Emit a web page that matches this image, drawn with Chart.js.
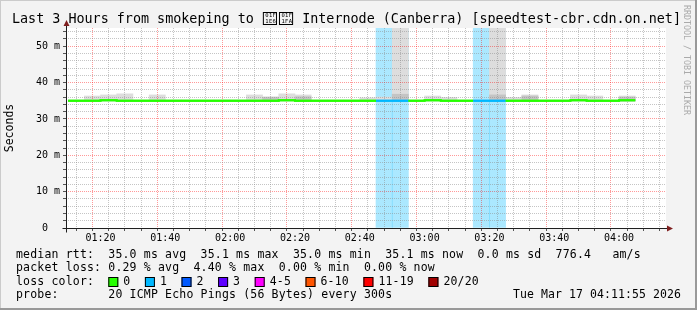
<!DOCTYPE html>
<html>
<head>
<meta charset="utf-8">
<script src="https://cdn.jsdelivr.net/npm/chart.js@4"></script>
<style>
  html, body { margin: 0; padding: 0; background: #f3f3f3; }
  canvas { display: block; }
</style>
</head>
<body>
<canvas id="smoke" width="697" height="310"></canvas>
<script>
// 5 minute rrd buckets (start time of each bucket)
const bucketStart = ['01:10','01:15','01:20','01:25','01:30','01:35','01:40','01:45','01:50','01:55',
  '02:00','02:05','02:10','02:15','02:20','02:25','02:30','02:35','02:40','02:45','02:50','02:55',
  '03:00','03:05','03:10','03:15','03:20','03:25','03:30','03:35','03:40','03:45','03:50','03:55',
  '04:00'];
// median rtt in ms
const medianRtt = [35.0,35.0,35.1,35.0,35.0,35.0,35.0,35.0,35.0,35.0,
  35.0,35.0,35.0,35.1,35.0,35.0,35.0,35.0,35.0,35.0,35.0,35.0,
  35.1,35.0,35.0,35.0,35.0,35.0,35.0,35.0,35.0,35.1,35.0,35.0,
  35.1];
// smoke (spread of the 20 pings), ms
const smokeLow = [34.8,34.8,34.9,34.8,34.8,34.8,34.8,34.8,34.8,34.8,
  34.8,34.8,34.8,34.9,34.8,34.8,34.8,34.8,34.8,34.8,34.8,34.8,
  34.9,34.8,34.8,34.8,34.8,34.8,34.8,34.8,34.8,34.9,34.8,34.8,
  34.9];
const smokeHigh = [35.2,36.3,36.6,36.9,35.2,36.6,35.2,35.2,35.2,35.2,
  35.2,36.6,36.1,36.9,36.6,35.2,35.2,35.2,35.8,36.0,62.0,35.2,
  36.3,35.9,35.2,35.2,62.0,35.9,36.6,35.2,35.2,36.6,36.3,35.2,
  36.3];
const smokeDense = [null,null,null,null,null,null,null,null,null,null,
  null,null,35.9,null,36.1,null,null,null,null,null,36.8,null,
  null,null,null,null,36.6,null,36.3,null,null,null,null,null,
  36.0];
// lost pings (of 20) per bucket
const lostPings = [0,0,0,0,0,0,0,0,0,0,
  0,0,0,0,0,0,0,0,0,1,1,0,
  0,0,0,1,1,0,0,0,0,0,0,0,
  0];

const lossLabels = ['0','1','2','3','4-5','6-10','11-19','20/20'];
const lossUpper  = [0, 1, 2, 3, 5, 10, 19, 20];
const lossColors = ['#26ff00','#00b8ff','#0059ff','#5e00ff','#ff00ff','#ff5500','#ff0000','#a10000'];

const yTicks = [0,2,4,6,8,10,12,14,16,18,20,22,24,26,28,30,32,34,36,38,40,42,44,46,48,50,52,54];
const yMax = 55;
const titleA = 'Last 3 Hours from smokeping to ';
const titleFlag = ['\u{1F1E6}', '\u{1F1FA}'];
const titleB = 'Internode (Canberra) [speedtest-cbr.cdn.on.net]';
const statLines = [
  'median rtt:  35.0 ms avg  35.1 ms max  35.0 ms min  35.1 ms now  0.0 ms sd  776.4   am/s',
  'packet loss: 0.29 % avg  4.40 % max  0.00 % min  0.00 % now'
];
const probeText = '20 ICMP Echo Pings (56 Bytes) every 300s';
const stampText = 'Tue Mar 17 04:11:55 2026';

const toMin = s => { const p = s.split(':'); return +p[0] * 60 + +p[1]; };
const fmtMin = v => String(Math.floor(v / 60)).padStart(2, '0') + ':' + String(v % 60).padStart(2, '0');
const xMin = toMin('01:11') + 55 / 60;   // 3h window ending 04:11:55
const xMax = xMin + 180;
const xTicks = [];
for (let t = Math.ceil(xMin / 5) * 5; t <= xMax; t += 5) xTicks.push(t);

const lossIdx = p => lossUpper.findIndex(u => p <= u);
const alpha = (hex, a) => {
  const n = parseInt(hex.slice(1), 16);
  return 'rgba(' + (n >> 16) + ',' + ((n >> 8) & 255) + ',' + (n & 255) + ',' + a + ')';
};

const mid = bucketStart.map(t => toMin(t) + 2.5);
const lineData = bucketStart.map((t, i) => ({x: toMin(t), y: medianRtt[i]}));
lineData.push({x: toMin(bucketStart[bucketStart.length - 1]) + 5, y: medianRtt[medianRtt.length - 1]});

const lossData = [], lossBg = [];
mid.forEach((x, i) => { if (lostPings[i] > 0) { lossData.push({x, y: [0, yMax]}); lossBg.push(alpha(lossColors[lossIdx(lostPings[i])], 0.33)); } });
const smokeData = mid.map((x, i) => ({x, y: [smokeLow[i], smokeHigh[i]]}));
const denseData = [];
mid.forEach((x, i) => { if (smokeDense[i] !== null) denseData.push({x, y: [smokeLow[i], smokeDense[i]]}); });

const MONO = '"DejaVu Sans Mono"';
const majorGrid = 'rgba(255,0,0,0.4)';
const minorGrid = 'rgba(140,140,140,0.5)';

function mono(ctx, str, x, y, pitch) {
  Array.from(str).forEach((ch, i) => ctx.fillText(ch, x + i * pitch, y));
}

// rrdtool had no glyph for the flag: it shows hex boxes instead
function hexBox(ctx, ch, x, top, w, h) {
  const hex = ch.codePointAt(0).toString(16).toUpperCase().padStart(6, '0');
  ctx.save();
  ctx.strokeStyle = '#000';
  ctx.lineWidth = 1;
  ctx.strokeRect(x + 0.5, top + 0.5, w - 1, h - 1);
  ctx.font = '5.5px ' + MONO;
  ctx.textBaseline = 'middle';
  ctx.textAlign = 'left';
  mono(ctx, hex.slice(0, 3), x + 2.5, top + h * 0.3, 3.6);
  mono(ctx, hex.slice(3), x + 2.5, top + h * 0.72, 3.6);
  ctx.restore();
}

const rrdFrame = {
  id: 'rrdFrame',
  beforeDraw(chart) {
    const {ctx, width, height, chartArea: a} = chart;
    ctx.save();
    ctx.fillStyle = '#f3f3f3';
    ctx.fillRect(0, 0, width, height);
    ctx.fillStyle = '#cbcbcb';
    ctx.fillRect(0, 0, width, 1);
    ctx.fillRect(0, 0, 1, height);
    ctx.fillStyle = '#999999';
    ctx.fillRect(0, height - 2, width, 2);
    ctx.fillRect(width - 2, 0, 2, height);
    ctx.fillStyle = '#ffffff';
    ctx.fillRect(a.left, a.top, a.right - a.left, a.bottom - a.top);
    ctx.restore();
  },
  afterDraw(chart) {
    const {ctx, chartArea: a} = chart;
    // median line back on top of the grid
    ctx.save();
    ctx.beginPath();
    ctx.rect(a.left, a.top - 1, a.right - a.left, a.bottom - a.top + 2);
    ctx.clip();
    chart.getDatasetMeta(0).controller.draw();
    ctx.restore();

    ctx.save();
    // axes + arrows
    const ax = Math.round(a.left) + 0.5, ay = Math.round(a.bottom) + 0.5;
    ctx.strokeStyle = '#1f1f1f';
    ctx.lineWidth = 1;
    ctx.beginPath();
    ctx.moveTo(ax, ay + 4); ctx.lineTo(ax, a.top - 4);
    ctx.moveTo(ax - 4, ay); ctx.lineTo(a.right + 2, ay);
    ctx.stroke();
    ctx.fillStyle = '#7f1f1f';
    ctx.beginPath();
    ctx.moveTo(ax, a.top - 8); ctx.lineTo(ax - 3, a.top - 2); ctx.lineTo(ax + 3, a.top - 2); ctx.closePath();
    ctx.moveTo(a.right + 7, ay); ctx.lineTo(a.right + 1, ay - 3); ctx.lineTo(a.right + 1, ay + 3); ctx.closePath();
    ctx.fill();

    ctx.fillStyle = '#000';
    // title
    const tp = 8.06, tx = 12;
    ctx.font = '13.4px ' + MONO;
    ctx.textBaseline = 'alphabetic';
    ctx.textAlign = 'left';
    mono(ctx, titleA, tx, 23, tp);
    titleFlag.forEach((ch, i) => hexBox(ctx, ch, tx + (titleA.length + 2 * i) * tp + 1, 12, 2 * tp - 2, 13));
    mono(ctx, titleB, tx + (titleA.length + 5) * tp, 23, tp);

    // axis title
    ctx.font = '11.5px ' + MONO;
    ctx.textBaseline = 'middle';
    ctx.save();
    ctx.translate(10, (a.top + a.bottom) / 2);
    ctx.rotate(-Math.PI / 2);
    ctx.textAlign = 'center';
    ctx.fillText('Seconds', 0, 0);
    ctx.restore();

    // legend
    const pitch = 7.1, lx = 16;
    const rows = [255, 268.5, 282, 295.5];
    statLines.forEach((s, i) => mono(ctx, s, lx, rows[i], pitch));
    mono(ctx, 'loss color:', lx, rows[2], pitch);
    let bx = lx + 13 * pitch;
    lossLabels.forEach((lab, i) => {
      ctx.fillStyle = lossColors[i];
      ctx.fillRect(bx, rows[2] - 5, 10, 10);
      ctx.strokeStyle = '#000';
      ctx.strokeRect(bx + 0.5, rows[2] - 4.5, 9, 9);
      ctx.fillStyle = '#000';
      mono(ctx, lab, bx + 15, rows[2], pitch);
      bx += 15 + lab.length * pitch + 14.5;
    });
    mono(ctx, 'probe:', lx, rows[3], pitch);
    mono(ctx, probeText, lx + 13 * pitch, rows[3], pitch);
    mono(ctx, stampText, 681 - stampText.length * 7.0, rows[3], 7.0);

    // watermark
    ctx.fillStyle = '#aaaaaa';
    ctx.font = '8.3px ' + MONO;
    ctx.translate(686, 5);
    ctx.rotate(Math.PI / 2);
    ctx.textAlign = 'left';
    mono(ctx, 'RRDTOOL / TOBI OETIKER', 0, 0, 5);
    ctx.restore();
  }
};

const barCommon = {type: 'bar', grouped: false, barPercentage: 1, categoryPercentage: 1, borderWidth: 0};

new Chart(document.getElementById('smoke'), {
  type: 'bar',
  data: {
    datasets: [
      {
        type: 'line', label: 'median rtt', data: lineData, order: 0,
        borderWidth: 2, pointRadius: 0, stepped: true, borderColor: lossColors[0],
        segment: {borderColor: c => lossColors[lossIdx(lostPings[c.p0DataIndex] || 0)]}
      },
      Object.assign({label: 'dense', data: denseData, order: 1, backgroundColor: '#c4c4c4'}, barCommon),
      Object.assign({label: 'smoke', data: smokeData, order: 2, backgroundColor: '#dddddd'}, barCommon),
      Object.assign({label: 'loss', data: lossData, order: 3, backgroundColor: lossBg}, barCommon)
    ]
  },
  options: {
    responsive: false,
    animation: false,
    devicePixelRatio: 1,
    layout: {padding: {left: 0, top: 28, right: 31, bottom: 66}},
    plugins: {legend: {display: false}, tooltip: {enabled: false}, title: {display: false}},
    scales: {
      x: {
        type: 'linear', min: xMin, max: xMax, bounds: 'data',
        afterBuildTicks: s => { s.ticks = xTicks.map(v => ({value: v})); },
        afterFit: s => { s.height = 16; },
        grid: {z: 1, lineWidth: 1, tickLength: 3, tickColor: '#555',
          color: c => (c.tick && c.tick.value % 20 === 0) ? majorGrid : minorGrid},
        border: {display: false, dash: [1, 1]},
        ticks: {autoSkip: false, maxRotation: 0, padding: 1, color: '#000',
          font: {family: 'DejaVu Sans Mono', size: 10},
          callback: v => v % 20 === 0 ? fmtMin(v) : ''}
      },
      y: {
        min: 0, max: yMax, bounds: 'data',
        afterBuildTicks: s => { s.ticks = yTicks.map(v => ({value: v})); },
        afterFit: s => { s.width = 66; },
        grid: {z: 1, lineWidth: 1, tickLength: 3, tickColor: '#555',
          color: c => (c.tick && c.tick.value % 10 === 0) ? majorGrid : minorGrid},
        border: {display: false, dash: [1, 1]},
        ticks: {autoSkip: false, padding: 3, color: '#000',
          font: {family: 'DejaVu Sans Mono', size: 10},
          callback: v => v % 10 === 0 ? (v === 0 ? '0  ' : v + ' m') : ''}
      }
    }
  },
  plugins: [rrdFrame]
});
</script>
</body>
</html>
